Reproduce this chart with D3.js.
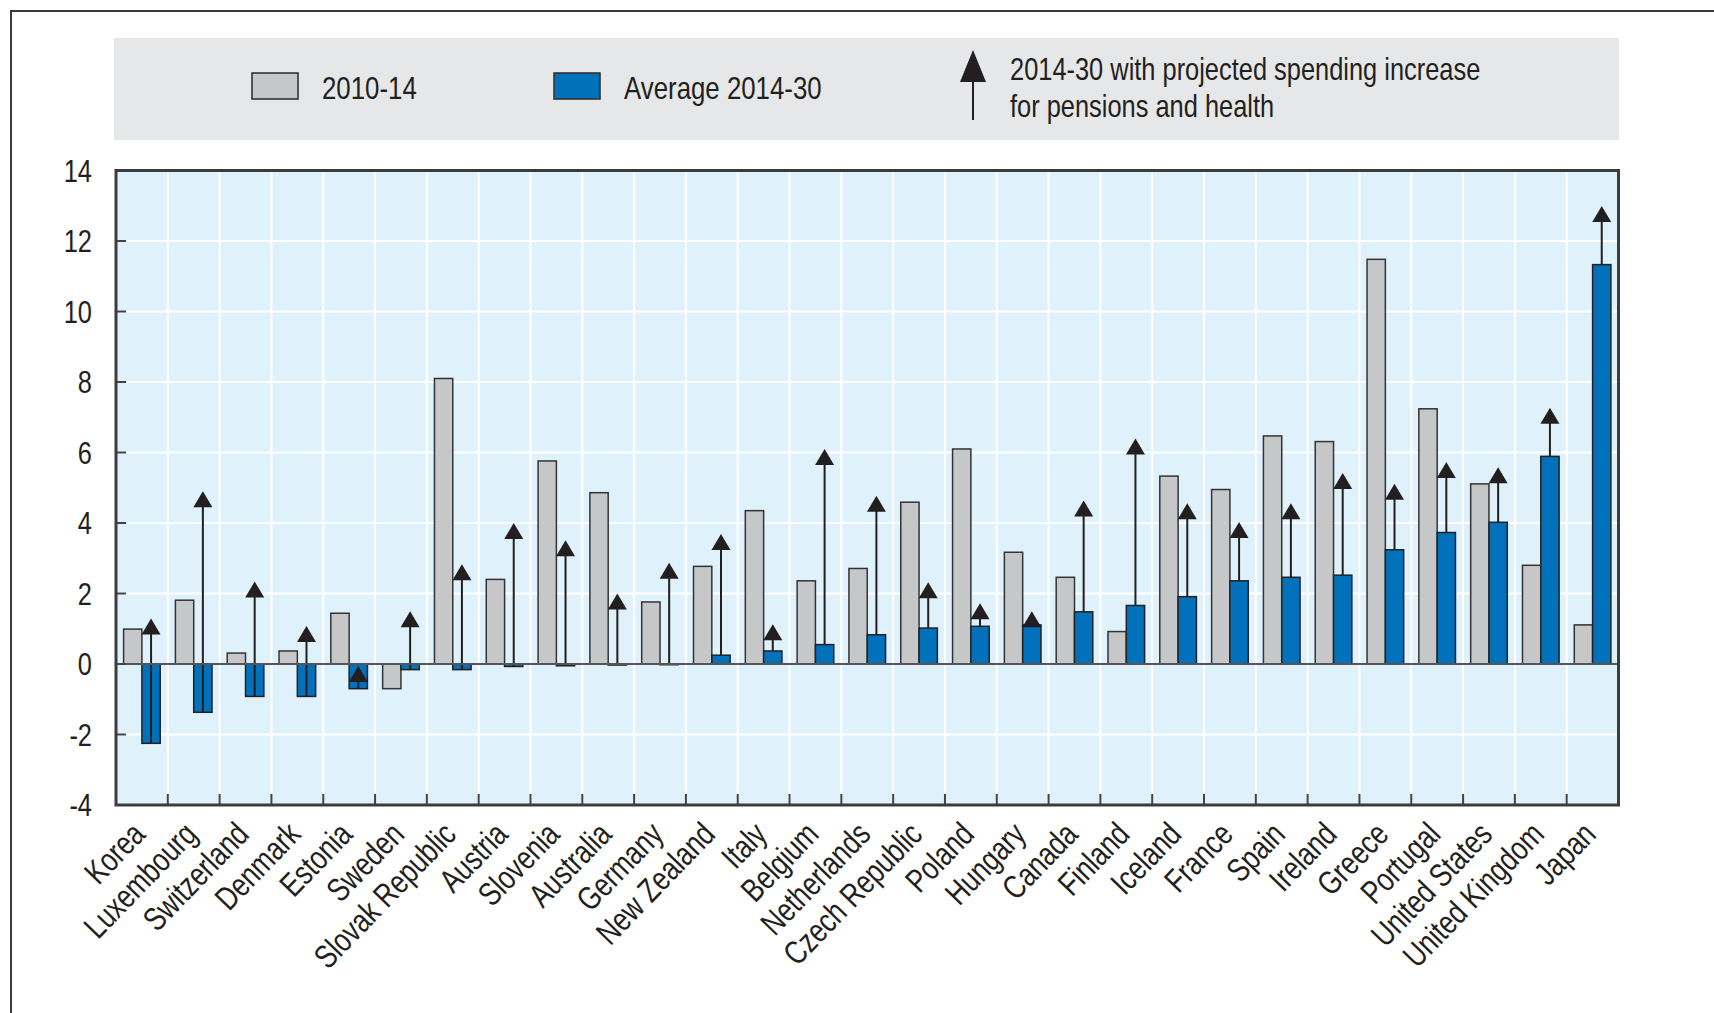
<!DOCTYPE html>
<html>
<head>
<meta charset="utf-8">
<script src="https://cdn.jsdelivr.net/npm/d3@7"></script>
<style>
  body { margin: 0; background: #fff; }
  text { font-family: "Liberation Sans", Arial, sans-serif; fill: #231f20; }
</style>
</head>
<body>
<svg id="chart" width="1714" height="1013"></svg>
<script>
const countries = ["Korea", "Luxembourg", "Switzerland", "Denmark", "Estonia", "Sweden",
  "Slovak Republic", "Austria", "Slovenia", "Australia", "Germany", "New Zealand", "Italy",
  "Belgium", "Netherlands", "Czech Republic", "Poland", "Hungary", "Canada", "Finland",
  "Iceland", "France", "Spain", "Ireland", "Greece", "Portugal", "United States",
  "United Kingdom", "Japan"];

// 2010-14
const period2010 = [0.99, 1.81, 0.31, 0.37, 1.44, -0.70, 8.10, 2.40, 5.76, 4.86, 1.76, 2.77, 4.35,
  2.36, 2.71, 4.59, 6.10, 3.17, 2.46, 0.92, 5.33, 4.95, 6.47, 6.31, 11.48, 7.24, 5.11, 2.80, 1.11];

// Average 2014-30
const average2014 = [-2.25, -1.37, -0.92, -0.92, -0.70, -0.16, -0.16, -0.07, -0.05, -0.03, -0.02, 0.25, 0.37,
  0.55, 0.83, 1.02, 1.07, 1.11, 1.48, 1.66, 1.91, 2.36, 2.46, 2.52, 3.24, 3.73, 4.02, 5.89, 11.33];

// 2014-30 with projected spending increase for pensions and health (arrow tips)
const projected = [1.29, 4.90, 2.34, 1.08, -0.06, 1.50, 2.83, 4.00, 3.51, 2.00, 2.87, 3.69, 1.13,
  6.10, 4.77, 2.32, 1.72, 1.50, 4.64, 6.40, 4.56, 4.03, 4.56, 5.42, 5.11, 5.73, 5.58, 7.27, 12.99];

const yTicks = [-4, -2, 0, 2, 4, 6, 8, 10, 12, 14];

const legendLabels = ["2010-14", "Average 2014-30"];
const arrowLegend = ["2014-30 with projected spending increase", "for pensions and health"];

const GREY = "#c6c7c9", BLUE = "#0071ba", INK = "#231f20";
const NARROW = "scale(0.82,1)"; // condensed look, no narrow font installed
const FS = 31;

const svg = d3.select("#chart");

const x = d3.scaleBand().domain(countries).range([116, 1618.5]);
const sub = d3.scaleBand().domain(["a", "b"]).range([0, x.bandwidth()]).paddingOuter(0.415);
const y = d3.scaleLinear().domain([-4, 14]).range([805, 170.5]);

const rows = countries.map((c, i) => ({c, a: period2010[i], b: average2014[i], p: projected[i]}));

// outer frame (left + top only)
svg.append("path")
  .attr("d", "M11,1013 V11 H1714")
  .attr("fill", "none").attr("stroke", "#3a3a3a").attr("stroke-width", 2);

// legend
svg.append("rect").attr("x", 114).attr("y", 38).attr("width", 1505).attr("height", 102).attr("fill", "#e6e7e8");
const leg = svg.append("g");
[[252, GREY], [554, BLUE]].forEach(([lx, col], i) => {
  leg.append("rect").attr("x", lx).attr("y", 73).attr("width", 46).attr("height", 26)
    .attr("fill", col).attr("stroke", "#333").attr("stroke-width", 1.6);
  leg.append("text").attr("transform", `translate(${lx + 70},99) ${NARROW}`)
    .attr("font-size", FS + 0.5).text(legendLabels[i]);
});
leg.append("line").attr("x1", 973).attr("x2", 973).attr("y1", 80).attr("y2", 120)
  .attr("stroke", INK).attr("stroke-width", 2);
leg.append("path").attr("d", "M973,50 L960,82 L986,82 Z").attr("fill", INK);
leg.selectAll(".al").data(arrowLegend).join("text")
  .attr("transform", (d, i) => `translate(1010,${80 + i * 37}) ${NARROW}`)
  .attr("font-size", FS).text(d => d);

// plot background
svg.append("rect").attr("x", 116).attr("y", 170.5).attr("width", 1502.5).attr("height", 634.5).attr("fill", "#dff1fb");

// white grid
svg.append("g").selectAll("line").data(yTicks.filter(t => t > -4 && t < 14 && t !== 0)).join("line")
  .attr("x1", 116).attr("x2", 1618.5).attr("y1", d => y(d)).attr("y2", d => y(d))
  .attr("stroke", "#fff").attr("stroke-width", 2);
svg.append("g").selectAll("line").data(countries.slice(1)).join("line")
  .attr("x1", d => x(d)).attr("x2", d => x(d)).attr("y1", 170.5).attr("y2", 805)
  .attr("stroke", "#fff").attr("stroke-width", 2);

// bars
const grp = svg.append("g").selectAll("g").data(rows).join("g")
  .attr("transform", d => `translate(${x(d.c)},0)`);
grp.append("rect")
  .attr("x", sub("a")).attr("width", sub.bandwidth())
  .attr("y", d => y(Math.max(0, d.a))).attr("height", d => Math.abs(y(d.a) - y(0)))
  .attr("fill", GREY).attr("stroke", "#333").attr("stroke-width", 1.5);
grp.append("rect")
  .attr("x", sub("b")).attr("width", sub.bandwidth())
  .attr("y", d => y(Math.max(0, d.b))).attr("height", d => Math.abs(y(d.b) - y(0)))
  .attr("fill", BLUE).attr("stroke", "#222").attr("stroke-width", 1.5);

// zero line
svg.append("line").attr("x1", 116).attr("x2", 1618.5).attr("y1", y(0)).attr("y2", y(0))
  .attr("stroke", "#555").attr("stroke-width", 2);

// arrows
const cx = sub("b") + sub.bandwidth() / 2;
grp.append("line")
  .attr("x1", cx).attr("x2", cx)
  .attr("y1", d => y(d.b)).attr("y2", d => y(d.p) + 15)
  .attr("stroke", INK).attr("stroke-width", 2);
grp.append("path")
  .attr("d", d => `M${cx},${y(d.p)} L${cx - 9.5},${y(d.p) + 16} L${cx + 9.5},${y(d.p) + 16} Z`)
  .attr("fill", INK);

// bottom ticks at band edges
svg.append("g").selectAll("line").data(countries.slice(1)).join("line")
  .attr("x1", d => x(d)).attr("x2", d => x(d)).attr("y1", 805).attr("y2", 794)
  .attr("stroke", "#444").attr("stroke-width", 2);

// y ticks (inward) and labels
svg.append("g").selectAll("line").data(yTicks).join("line")
  .attr("x1", 116).attr("x2", 126).attr("y1", d => y(d)).attr("y2", d => y(d))
  .attr("stroke", "#444").attr("stroke-width", 2);
svg.append("g").selectAll("text").data(yTicks).join("text")
  .attr("text-anchor", "end").attr("font-size", FS).attr("dy", "0.36em")
  .attr("transform", d => `translate(92,${y(d)}) ${NARROW}`)
  .text(d => String(d));

// plot border
svg.append("rect").attr("x", 116).attr("y", 170.5).attr("width", 1502.5).attr("height", 634.5)
  .attr("fill", "none").attr("stroke", "#3c3c3c").attr("stroke-width", 3);

// category labels
svg.append("g").selectAll("text").data(countries).join("text")
  .attr("text-anchor", "end").attr("font-size", 33)
  .attr("transform", d => `translate(${x(d) + x.bandwidth() / 2 + 5},836) rotate(-46) scale(0.79,1)`)
  .text(d => d);
</script>
</body>
</html>
